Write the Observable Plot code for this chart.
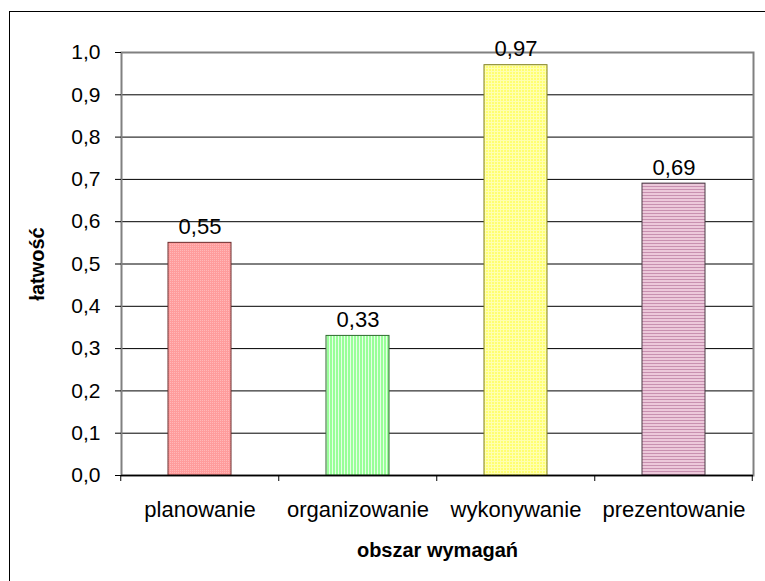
<!DOCTYPE html>
<html><head><meta charset="utf-8">
<script src="https://cdn.jsdelivr.net/npm/d3@7"></script>
<script src="https://cdn.jsdelivr.net/npm/@observablehq/plot@0.6"></script>
<style>
body{margin:0;background:#fff;}
#frame{position:absolute;left:9px;top:11px;width:800px;height:620px;border-left:1px solid #000;border-top:1px solid #000;}
#chart{position:absolute;left:0;top:0;}
</style>
</head><body><div id="frame"></div><div id="chart"></div><script>
const categories = ["planowanie", "organizowanie", "wykonywanie", "prezentowanie"];
const values = [0.55, 0.33, 0.97, 0.69];
const yTicks = [0, 0.1, 0.2, 0.3, 0.4, 0.5, 0.6, 0.7, 0.8, 0.9, 1.0];
const fills = ["url(#pat0)", "url(#pat1)", "url(#pat2)", "url(#pat3)"];
const strokes = ["#6b2a2a", "#2f6b2f", "#808020", "#4a3a44"];
const xTitle = "obszar wymagań";
const yTitle = "łatwość";

const data = categories.map((c, i) => ({cat: c, value: values[i], fill: fills[i], stroke: strokes[i]}));
const fmt = d => d.toFixed(2).replace(".", ",");
const fmtY = d => d.toFixed(1).replace(".", ",");
const font = "Arial, 'Liberation Sans', sans-serif";

const plot = Plot.plot({
  width: 765, height: 581,
  marginLeft: 121, marginRight: 12, marginTop: 52, marginBottom: 106,
  style: {fontFamily: font, fontSize: "21px", background: "transparent", color: "#000"},
  x: {domain: categories, paddingInner: 0.6, paddingOuter: 0.3, label: null},
  y: {domain: [0, 1], label: null},
  color: {type: "identity"},
  marks: [
    Plot.ruleY(yTicks.filter(t => t > 0 && t < 1), {stroke: "#000", strokeWidth: 1}),
    Plot.frame({stroke: "#808080", strokeWidth: 2}),
    Plot.barY(data, {x: "cat", y: "value", fill: "fill", stroke: "stroke", strokeWidth: 1}),
    Plot.text(data, {x: "cat", y: "value", text: d => fmt(d.value), dy: -16, fontSize: 22, fill: "#000"}),
    Plot.ruleY([0], {stroke: "#000", strokeWidth: 1.5}),
    Plot.axisY({ticks: yTicks, tickFormat: fmtY, tickSize: 6, tickPadding: 15, label: null, fontSize: 21, stroke: "#000"}),
    Plot.axisX({tickSize: 0, tickPadding: 26, label: null, fontSize: 22}),
    Plot.text([yTitle], {frameAnchor: "left", dx: -84, rotate: -90, textAnchor: "middle", lineAnchor: "middle", fontWeight: "bold", fontSize: 20, fill: "#000"}),
    Plot.text([xTitle], {frameAnchor: "bottom", dy: 75, textAnchor: "middle", lineAnchor: "middle", fontWeight: "bold", fontSize: 20, fill: "#000"})
  ]
});

// patterns
const svg = d3.select(plot);
const defs = svg.insert("defs", ":first-child");
let p = defs.append("pattern").attr("id", "pat0").attr("width", 2).attr("height", 2).attr("patternUnits", "userSpaceOnUse");
p.append("rect").attr("width", 2).attr("height", 2).attr("fill", "#ff9c9c");
p.append("rect").attr("width", 1).attr("height", 1).attr("fill", "#ffb8b8");
p = defs.append("pattern").attr("id", "pat1").attr("width", 3).attr("height", 3).attr("patternUnits", "userSpaceOnUse");
p.append("rect").attr("width", 3).attr("height", 3).attr("fill", "#99ff99");
p.append("rect").attr("x", 2).attr("width", 1).attr("height", 3).attr("fill", "#e6ffe6");
p = defs.append("pattern").attr("id", "pat2").attr("width", 3).attr("height", 3).attr("patternUnits", "userSpaceOnUse");
p.append("rect").attr("width", 3).attr("height", 3).attr("fill", "#ffff70");
p.append("rect").attr("x", 2).attr("width", 1).attr("height", 3).attr("fill", "#ffffb0");
p.append("rect").attr("y", 2).attr("width", 3).attr("height", 1).attr("fill", "#ffffb0");
p = defs.append("pattern").attr("id", "pat3").attr("width", 3).attr("height", 3).attr("patternUnits", "userSpaceOnUse");
p.append("rect").attr("width", 3).attr("height", 3).attr("fill", "#ecc8da");
p.append("rect").attr("y", 0).attr("width", 3).attr("height", 1).attr("fill", "#c890b0");

// category boundary ticks on x axis
const xs = plot.scale("x");
const ys = plot.scale("y");
const step = xs.bandwidth / (1 - 0.6);
const y0 = ys.apply(0);
const bounds = categories.map(c => xs.apply(c) - (step - xs.bandwidth) / 2);
bounds.push(bounds[bounds.length - 1] + step);
svg.append("g").selectAll("line").data(bounds).join("line")
  .attr("x1", d => d).attr("x2", d => d).attr("y1", y0).attr("y2", y0 + 6)
  .attr("stroke", "#000");

document.getElementById("chart").appendChild(plot);
</script></body></html>
